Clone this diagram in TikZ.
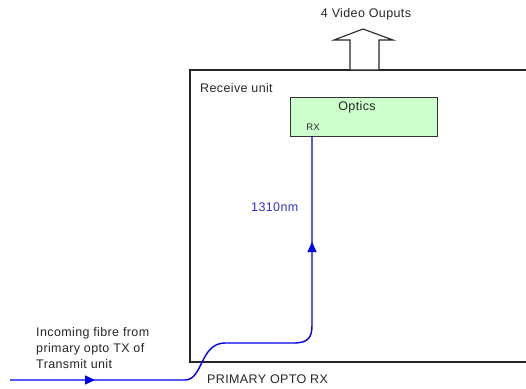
\documentclass[tikz,border=0pt]{standalone}
\usepackage{fontspec}
\setmainfont{Liberation Sans}[LetterSpace=3]
\usetikzlibrary{arrows.meta,decorations.markings}
\definecolor{fibre}{RGB}{0,0,235}
\definecolor{labelblue}{RGB}{50,50,200}
\definecolor{opticsfill}{RGB}{204,255,204}
\tikzset{
  txt/.style={font=\fontsize{12.5}{16}\selectfont, inner sep=0pt, text=black!85},
  unitbox/.style={draw=black!85, line width=1.3pt},
  opticsbox/.style={draw=black!80, fill=opticsfill, line width=1pt},
  fibreline/.style={draw=fibre, line width=1.4pt,
    postaction={decorate, decoration={markings,
      mark=at position 85pt with {\arrow{Triangle[length=10pt,width=9pt]}},
      mark=at position -106pt with {\arrow{Triangle[length=10pt,width=9pt]}}}}},
  bigarrow/.style={draw=black!85, line width=1.1pt, fill=white}
}
\begin{document}
\begin{tikzpicture}[x=1pt,y=-1pt]
\useasboundingbox (0,0) rectangle (526,388);
% receive unit box (runs off the right edge)
\draw[unitbox] (530,70) -- (190,70) -- (190,362) -- (530,362);
\node[txt, anchor=west] (recv) at (200,88) {Receive unit};
% output arrow
\draw[bigarrow] (350,70) -- (350,40) -- (334,40) -- (363,29) -- (393,40) -- (379,40) -- (379,70) -- cycle;
\node[txt] (vout) at (366,14) {4 Video Ouputs};
% optics
\node[opticsbox, minimum width=147pt, minimum height=39pt, inner sep=0pt, anchor=north west] (optics) at (290,97) {};
\node[txt] (opticslbl) at (357,107) {Optics};
\node[txt, font=\fontsize{9.5}{11}\selectfont] (rx) at (313,127) {RX};
\coordinate (rxin) at (312,136);
% fibre
\coordinate (fin) at (10,380);
\draw[fibreline] (fin) -- (185,380) .. controls (203,380) and (200,343) .. (225,343)
  -- (293,343) .. controls (308,343) and (312,338) .. (312,325) -- (rxin);
\node[txt, text=labelblue, anchor=west] (wl) at (251,207) {1310nm};
\node[txt, anchor=west, align=left] (inc) at (36,348) {Incoming fibre from\\primary opto TX of\\Transmit unit};
\node[txt, anchor=west] (prx) at (207,379) {PRIMARY OPTO RX};
\end{tikzpicture}
\end{document}
